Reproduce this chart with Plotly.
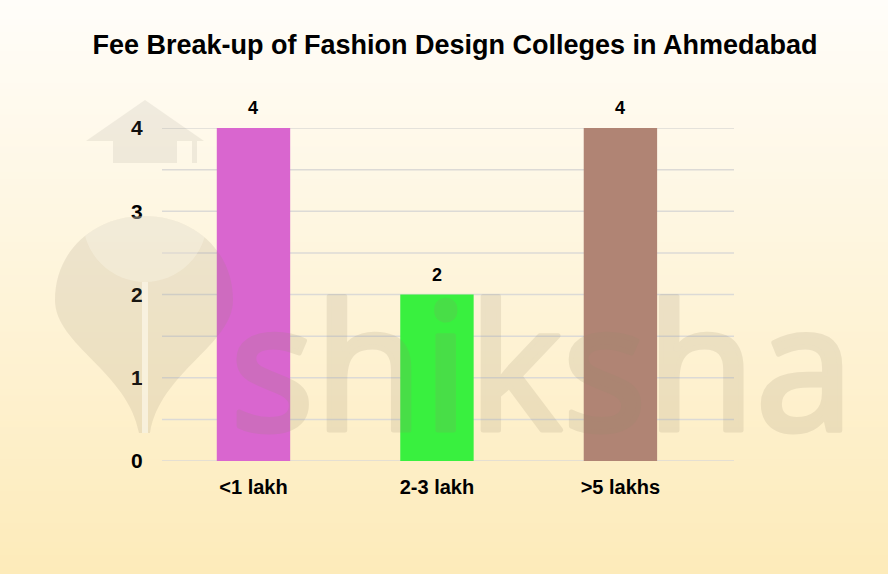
import base64
import plotly.graph_objects as go

categories = ["<1 lakh", "2-3 lakh", ">5 lakhs"]
values = [4, 2, 4]
colors = ["#d966cf", "#39f03f", "#b08474"]
title = "Fee Break-up of Fashion Design Colleges in Ahmedabad"
yticks = [0, 1, 2, 3, 4]

W, H = 888, 574
ML, MR, MT, MB = 162, 154, 128, 113
PW, PH = W - ML - MR, H - MT - MB

xpos = list(range(len(categories)))

fig = go.Figure()
fig.add_trace(go.Bar(
    x=xpos, y=values, width=0.4,
    marker=dict(color=colors, line=dict(width=0)),
    hoverinfo="x+y",
))

# value labels
for xp, v in zip(xpos, values):
    fig.add_annotation(x=xp, y=v, text="<b>%d</b>" % v, showarrow=False,
                       yanchor="middle", yshift=20,
                       font=dict(family="Liberation Sans, Arial", size=18, color="#000000"))

# background gradient via strips
n = 90
top = (255, 253, 249)
bot = (253, 235, 186)
shapes = []
for i in range(n):
    t = i / (n - 1)
    c = tuple(round(top[k] + (bot[k] - top[k]) * t) for k in range(3))
    y1 = 1 + MT / PH - i * (H / PH) / n
    y0 = 1 + MT / PH - (i + 1) * (H / PH) / n - 0.01
    shapes.append(dict(type="rect", xref="paper", yref="paper",
                       x0=-ML / PW - 0.05, x1=1 + MR / PW + 0.05, y0=y0, y1=y1,
                       fillcolor="rgb(%d,%d,%d)" % c, line=dict(width=0), layer="below"))

# gridlines every 0.5
for g in [0, 0.5, 1, 1.5, 2, 2.5, 3, 3.5, 4]:
    shapes.append(dict(type="line", xref="paper", yref="y", x0=0, x1=1, y0=g, y1=g,
                       line=dict(color="#dcdad6", width=1.5), layer="below"))

# faint watermark logo (image overlay)
shield = "M139 433 C128 372 55 345 55 300 C55 250 95 216 144 216 C193 216 233 250 233 300 C233 345 160 372 150 433 Z"
svg = f'''<svg xmlns="http://www.w3.org/2000/svg" width="{W}" height="{H}" viewBox="0 0 {W} {H}">
<defs><clipPath id="c"><path d="{shield}"/></clipPath></defs>
<g opacity="0.12" fill="rgb(140,135,120)">
<path d="M86 141 L145 100 L204 141 Z"/>
<rect x="113" y="141" width="64" height="22"/>
<rect x="192" y="141" width="5" height="22"/>
</g>
<g opacity="0.16" fill="rgb(150,138,110)">
<path d="{shield}"/>
</g>
<g opacity="0.17" fill="rgb(150,138,110)" stroke="rgb(150,138,110)" stroke-width="5" stroke-linejoin="round">
<text x="230" y="430" textLength="624" lengthAdjust="spacingAndGlyphs" font-family="Noto Sans, Lato, sans-serif" font-size="176" font-weight="400">shiksha</text>
</g>
<g clip-path="url(#c)">
<circle cx="145" cy="220" r="62" fill="rgb(255,252,240)" fill-opacity="0.3"/>
<rect x="142" y="282" width="6" height="152" fill="rgb(255,252,240)" fill-opacity="0.6"/>
</g>
</svg>'''
uri = "data:image/svg+xml;base64," + base64.b64encode(svg.encode()).decode()

fig.add_layout_image(dict(source=uri, xref="paper", yref="paper",
                          x=-ML / PW, y=1 + MT / PH, sizex=W / PW, sizey=H / PH,
                          xanchor="left", yanchor="top", sizing="stretch", layer="above"))

fig.update_layout(
    width=W, height=H,
    margin=dict(l=ML, r=MR, t=MT, b=MB),
    paper_bgcolor="#fffdf8", plot_bgcolor="rgba(0,0,0,0)",
    shapes=shapes,
    showlegend=False,
    title=dict(text="<b>" + title + "</b>", x=455 / W, xanchor="center", y=1 - 45 / H, yanchor="middle",
               font=dict(family="Liberation Sans, Arial", size=27, color="#000000")),
    xaxis=dict(tickmode="array", tickvals=xpos, ticktext=["<b>%s</b>" % c for c in categories],
               range=[-0.4986, 2.619], showgrid=False, zeroline=False, showline=False,
               tickfont=dict(family="Liberation Sans, Arial", size=20, color="#000000"),
               ticks="outside", ticklen=8, tickcolor="rgba(0,0,0,0)"),
    yaxis=dict(range=[0, 4], tickmode="array", tickvals=yticks,
               ticktext=["<b>%d</b>" % v for v in yticks],
               showgrid=False, zeroline=False, showline=False,
               tickfont=dict(family="Liberation Sans, Arial", size=21, color="#000000"),
               ticks="outside", ticklen=14, tickcolor="rgba(0,0,0,0)"),
)

fig.write_html("out.html", config={"displayModeBar": False},
               post_script="document.body.style.margin='0';document.body.style.overflow='hidden';")
